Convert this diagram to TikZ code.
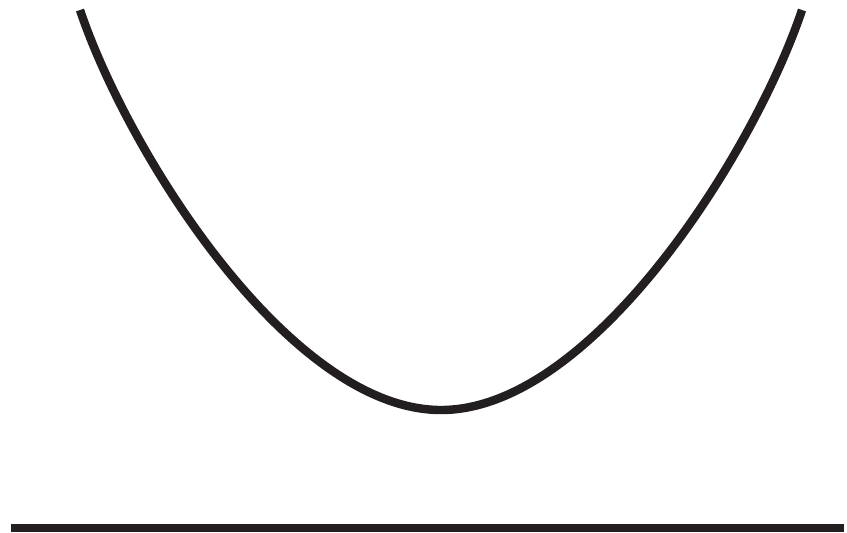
\documentclass[tikz,border=0pt]{standalone}
\usepackage{xcolor}
\usepackage{tikz}
\definecolor{ink}{HTML}{231F20}
\tikzset{
  curve/.style={draw=ink,line width=4.8pt,line cap=butt,line join=round},
  base/.style={fill=ink,draw=none}
}

\begin{document}
\begin{tikzpicture}[x=0.02cm,y=-0.02cm]
 \useasboundingbox (0,0) rectangle (847,532);
 % U-shaped curve
 \coordinate (tl) at (80,10);
 \coordinate (bot) at (441,410);
 \coordinate (tr) at (802,10);
 \draw[curve] (tl) .. controls (128,153) and (290,410) .. (bot)
   .. controls (592,410) and (754,153) .. (tr);
 % ground bar
 \fill[base] (11,524) rectangle (844,532);
\end{tikzpicture}
\end{document}
